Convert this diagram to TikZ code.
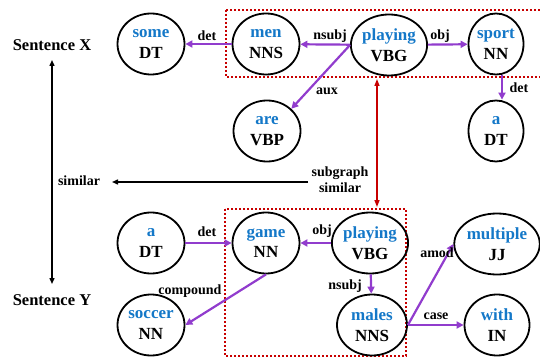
\documentclass[tikz,border=0pt]{standalone}
\usepackage{fontspec}
\setmainfont{Liberation Serif}
\usetikzlibrary{shapes.geometric,arrows.meta}
\definecolor{wblue}{RGB}{20,120,200}
\definecolor{epurple}{RGB}{145,60,205}
\definecolor{bred}{RGB}{200,0,0}
\tikzset{
  wnode/.style={ellipse,draw=black,line width=1.8pt,minimum width=67pt,minimum height=61pt,inner sep=0pt,align=center,font=\bfseries\fontsize{17}{20.5}\selectfont},
  narrow/.style={minimum width=55pt},
  dep/.style={draw=epurple,line width=2.2pt,-{Triangle[length=7pt,width=7pt]}},
  elab/.style={font=\bfseries\fontsize{14}{15}\selectfont,inner sep=0pt},
  sent/.style={font=\bfseries\fontsize{16.5}{18}\selectfont,inner sep=0pt},
  subbox/.style={draw=bred,line width=2pt,dash pattern=on 2pt off 2pt},
  redarrow/.style={draw=bred,line width=1.4pt,{Triangle[length=7pt,width=5pt]}-{Triangle[length=7pt,width=5pt]}},
  blackarrow/.style={draw=black,line width=1.4pt},
}
\newcommand{\wt}[2]{\textcolor{wblue}{#1}\\#2}
\begin{document}
\begin{tikzpicture}[x=1pt,y=-1pt]
\useasboundingbox (0,0) rectangle (540,358);
\begin{scope}
\clip (0,0) rectangle (540,358);
\draw[subbox] (226,10) rectangle (560,77);
\draw[subbox] (225,209) rectangle (406,356);
\end{scope}
% top graph
\node[wnode] (some) at (151,44) {\wt{some}{DT}};
\node[wnode] (men) at (266,44) {\wt{men}{NNS}};
\node[wnode] (playA) at (389,45) {\wt{playing}{VBG}};
\node[wnode,narrow] (sport) at (496,44) {\wt{sport}{NN}};
\node[wnode] (are) at (267,131) {\wt{are}{VBP}};
\node[wnode,narrow] (aA) at (496,131) {\wt{a}{DT}};
% bottom graph
\node[wnode] (aB) at (151,243) {\wt{a}{DT}};
\node[wnode] (game) at (266,243) {\wt{game}{NN}};
\node[wnode] (playB) at (370,243) {\wt{playing}{VBG}};
\node[wnode] (soccer) at (151,325) {\wt{soccer}{NN}};
\node[wnode,minimum width=70pt] (males) at (372,325) {\wt{males}{NNS}};
\node[wnode,minimum width=65pt] (multiple) at (497,244) {\wt{multiple}{JJ}};
\node[wnode,minimum width=65pt] (with) at (497,325) {\wt{with}{IN}};
% edges top
\draw[dep] (men) -- (some);
\draw[dep] (playA) -- (men);
\draw[dep] (playA) -- (sport);
\draw[dep] (playA.west) -- (are.north east);
\draw[dep] ([xshift=6pt]sport.south) -- ([xshift=6pt]aA.north);
\node[elab] (l1) at (207,36) {det};
\node[elab] (l2) at (330,36) {nsubj};
\node[elab] (l3) at (440,36) {obj};
\node[elab] (l4) at (327,91) {aux};
\node[elab] (l5) at (519,88) {det};
% edges bottom
\draw[dep] (aB) -- (game);
\draw[dep] (playB) -- (game);
\draw[dep] (game.south) -- (soccer.east);
\draw[dep] (playB) -- (males);
\draw[dep] (males.east) -- (multiple.west);
\draw[dep] (males.east) -- (with.west);
\node[elab] (l6) at (207,232) {det};
\node[elab] (l7) at (322,231) {obj};
\node[elab] (l8) at (190,291) {compound};
\node[elab] (l9) at (345,286) {nsubj};
\node[elab] (l10) at (437,253) {amod};
\node[elab] (l11) at (436,316) {case};
% sentences and similarity
\node[sent] (sx) at (52,45) {Sentence X};
\node[sent] (sy) at (52,300) {Sentence Y};
\coordinate (vtop) at (52,60);
\coordinate (vbot) at (52,284);
\draw[blackarrow,{Triangle[length=6pt,width=5pt]}-{Triangle[length=6pt,width=5pt]}] (vtop) -- (vbot);
\node[elab,align=center,font=\bfseries\fontsize{14}{16}\selectfont] (ss) at (340,180) {subgraph\\similar};
\node[elab] (sim) at (79,181) {similar};
\coordinate (hstart) at (308,182);
\coordinate (hend) at (112,182);
\draw[blackarrow,-{Triangle[length=6pt,width=5pt]}] (hstart) -- (hend);
\coordinate (rtop) at (377,79);
\coordinate (rbot) at (377,207);
\draw[redarrow] (rtop) -- (rbot);
\end{tikzpicture}
\end{document}
